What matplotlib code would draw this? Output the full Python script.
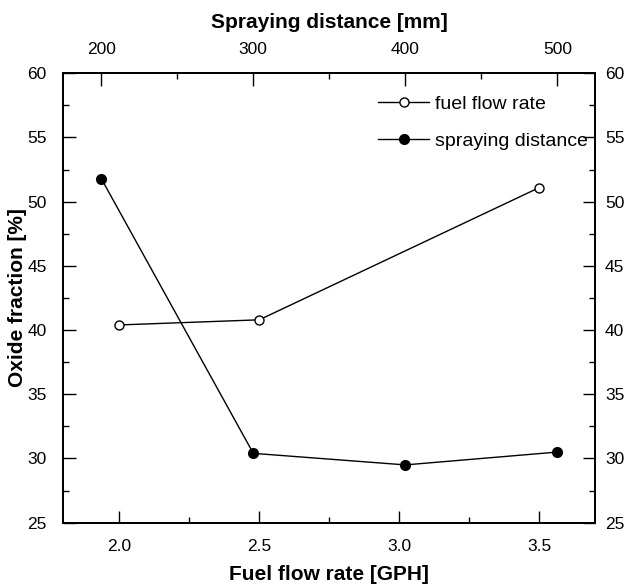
import matplotlib
matplotlib.use("Agg")
import matplotlib.pyplot as plt
from matplotlib.ticker import MultipleLocator

plt.rcParams['font.family'] = ['Liberation Sans', 'DejaVu Sans']

# Data
fuel_rate = [2.0, 2.5, 3.5]
fuel_oxide = [40.4, 40.8, 51.1]

spray_dist = [200, 300, 400, 500]
spray_oxide = [51.8, 30.4, 29.5, 30.5]

fig = plt.figure(figsize=(6.34, 5.84), dpi=100)
ax = fig.add_axes([0.0998, 0.105, 0.8392, 0.7695])

# Bottom axis: fuel flow rate
l1, = ax.plot(fuel_rate, fuel_oxide, color='black', lw=1.0, marker='o',
              markersize=6.5, markerfacecolor='white', markeredgecolor='black',
              markeredgewidth=1.0, label='fuel flow rate')
ax.set_xlim(1.8, 3.7)
ax.set_ylim(25, 60)
ax.xaxis.set_major_locator(MultipleLocator(0.5))
ax.xaxis.set_minor_locator(MultipleLocator(0.25))
ax.yaxis.set_major_locator(MultipleLocator(5))
ax.yaxis.set_minor_locator(MultipleLocator(2.5))
ax.set_xlabel("Fuel flow rate [GPH]", fontsize=15, fontweight='bold', labelpad=8)
ax.set_ylabel("Oxide fraction [%]", fontsize=15, fontweight='bold', labelpad=0)
ax.tick_params(which='both', direction='in', labelsize=12.5, width=1.0)
ax.tick_params(which='major', length=9)
ax.tick_params(which='minor', length=4)
ax.tick_params(axis='x', which='major', pad=12)
ax.tick_params(axis='y', which='major', pad=12)
ax.tick_params(axis='x', which='both', top=False)

# Right axis: same oxide scale
ax3 = ax.twinx()
ax3.set_ylim(25, 60)
ax3.yaxis.set_major_locator(MultipleLocator(5))
ax3.yaxis.set_minor_locator(MultipleLocator(2.5))
ax3.tick_params(which='both', direction='in', labelsize=12.5, width=1.0)
ax3.tick_params(which='major', length=9, pad=7)
ax3.tick_params(which='minor', length=4)

# Top axis: spraying distance
ax2 = ax.twiny()
l2, = ax2.plot(spray_dist, spray_oxide, color='black', lw=1.0, marker='o',
               markersize=7, markerfacecolor='black', markeredgecolor='black',
               label='spraying distance')
ax2.set_xlim(175, 525)
ax2.set_ylim(25, 60)
ax2.xaxis.set_major_locator(MultipleLocator(100))
ax2.xaxis.set_minor_locator(MultipleLocator(50))
ax2.set_xlabel("Spraying distance [mm]", fontsize=15, fontweight='bold', labelpad=10)
ax2.tick_params(which='both', direction='in', labelsize=12.5, width=1.0)
ax2.tick_params(which='major', length=9, pad=12)
ax2.tick_params(which='minor', length=4)
ax2.tick_params(axis='y', which='both', left=False, right=False,
                labelleft=False, labelright=False)

for a in (ax, ax2, ax3):
    for s in a.spines.values():
        s.set_linewidth(1.2)

ax2.legend(handles=[l1, l2], loc='upper right', bbox_to_anchor=(1.0, 0.969),
           frameon=False, fontsize=14, handlelength=2.6, handletextpad=0.3,
           borderaxespad=0, labelspacing=1.0, borderpad=0.4)

fig.savefig("out.png", dpi=100)
